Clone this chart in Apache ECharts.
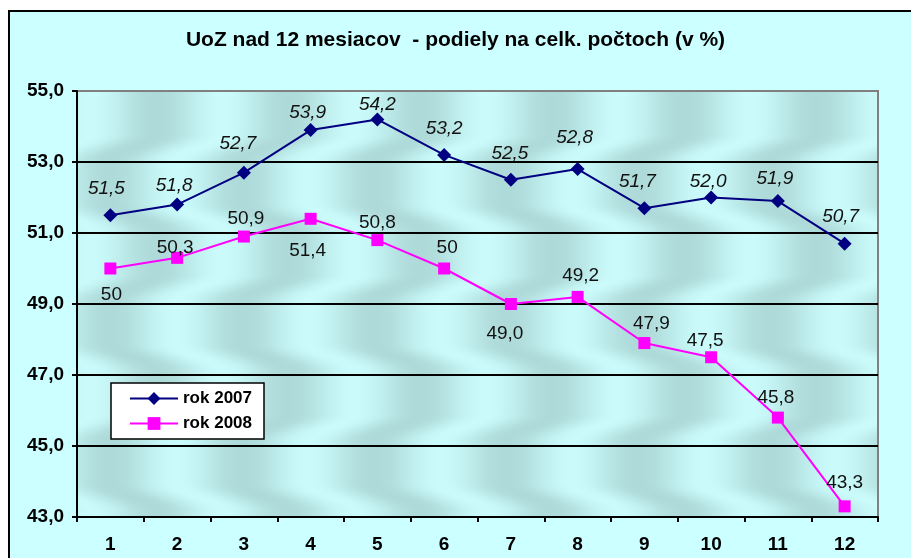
<!DOCTYPE html>
<html>
<head>
<meta charset="utf-8">
<script src="https://cdn.jsdelivr.net/npm/echarts@6/dist/echarts.min.js"></script>
<style>
  html, body { margin: 0; padding: 0; background: #fff; }
  #main { width: 911px; height: 558px; }
</style>
</head>
<body>
<div id="main"></div>
<script>
var months = ['1', '2', '3', '4', '5', '6', '7', '8', '9', '10', '11', '12'];
var rok2007 = [51.5, 51.8, 52.7, 53.9, 54.2, 53.2, 52.5, 52.8, 51.7, 52.0, 51.9, 50.7];
var rok2008 = [50, 50.3, 50.9, 51.4, 50.8, 50, 49.0, 49.2, 47.9, 47.5, 45.8, 43.3];
var labels2008 = ['50', '50,3', '50,9', '51,4', '50,8', '50', '49,0', '49,2', '47,9', '47,5', '45,8', '43,3'];

// label placement tweaks (the original labels were nudged by hand)
var pos2008 = ['bottom', 'top', 'top', 'bottom', 'top', 'top', 'bottom', 'top', 'top', 'top', 'top', 'top'];
var nudge2007 = [[-4, 0], [-3, 8], [-6, -2], [-3, 9], [0, 12], [0, 0], [-1, 0], [-3, -5], [-7, 0], [-3, 11], [-3, 4], [-4, 0]];
var nudge2008 = [[1, 3], [-2, 13], [2, 6], [-3, 8], [0, 6], [3, 3], [-6, 6], [3, 2], [7, 4], [-6, 7], [-2, 4], [0, 0]];

// soft teal texture for the plot area, drawn in page coordinates
function makeTexture() {
    var w = 911, h = 558;
    var c = document.createElement('canvas');
    c.width = w;
    c.height = h;
    var ctx = c.getContext('2d');
    var img = ctx.createImageData(w, h);
    var dark = [174, 218, 217], light = [202, 250, 250];
    for (var y = 0; y < h; y++) {
        // bands of ~70px, each shifted sideways, blended softly
        var t = (y - 91) / 70;
        var f = t - Math.floor(t);
        var s = Math.min(1, Math.max(0, (f - 0.6) / 0.4));
        s = s * s * (3 - 2 * s);
        var odd = Math.floor(t) % 2 === 0 ? 0 : 1;
        var phase = Math.PI * 0.7 * (odd ? 1 - s : s);
        for (var x = 0; x < w; x++) {
            var b = 0.5 + 0.5 * Math.cos(2 * Math.PI * (x - 90) / 132 + phase);
            var k = (y * w + x) * 4;
            img.data[k] = dark[0] + (light[0] - dark[0]) * b;
            img.data[k + 1] = dark[1] + (light[1] - dark[1]) * b;
            img.data[k + 2] = dark[2] + (light[2] - dark[2]) * b;
            img.data[k + 3] = 255;
        }
    }
    ctx.putImageData(img, 0, 0);
    return c;
}

var myChart = echarts.init(document.getElementById('main'));

var option = {
    backgroundColor: '#fff',
    textStyle: { fontFamily: 'Liberation Sans, Arial, sans-serif' },
    graphic: [
        {
            type: 'rect',
            z: -10,
            shape: { x: 9, y: 11, width: 920, height: 560 },
            style: { fill: '#ccffff', stroke: '#000', lineWidth: 2 }
        }
    ],
    title: {
        text: 'UoZ nad 12 mesiacov  - podiely na celk. počtoch (v %)',
        left: 'center',
        top: 25,
        textStyle: { fontSize: 21, fontWeight: 'bold', color: '#000' }
    },
    legend: {
        orient: 'vertical',
        left: 111,
        top: 383,
        backgroundColor: '#fff',
        borderColor: '#000',
        borderWidth: 1.5,
        padding: [7, 12, 7, 18],
        itemGap: 8,
        itemWidth: 48,
        itemHeight: 16,
        textStyle: { fontSize: 17, fontWeight: 'bold', color: '#000' },
        data: ['rok 2007', 'rok 2008']
    },
    grid: {
        left: 77,
        top: 91,
        right: 33,
        bottom: 41,
        show: true,
        backgroundColor: { image: makeTexture(), repeat: 'no-repeat' },
        borderColor: '#808080',
        borderWidth: 2
    },
    xAxis: {
        type: 'category',
        data: months,
        boundaryGap: true,
        axisLine: { lineStyle: { color: '#000', width: 2 } },
        axisTick: { show: true, length: 5, lineStyle: { color: '#000', width: 2 } },
        axisLabel: { fontSize: 19, fontWeight: 'bold', color: '#000', margin: 18 }
    },
    yAxis: {
        type: 'value',
        min: 43,
        max: 55,
        interval: 2,
        axisLine: { show: true, lineStyle: { color: '#000', width: 2 } },
        axisTick: { show: true, length: 5, lineStyle: { color: '#000', width: 2 } },
        axisLabel: {
            fontSize: 19,
            fontWeight: 'bold',
            color: '#000',
            margin: 13,
            formatter: function (v) { return v.toFixed(1).replace('.', ','); }
        },
        splitLine: {
            show: true,
            lineStyle: { color: ['#000', '#000', '#000', '#000', '#000', '#000', '#808080'], width: 2 }
        }
    },
    series: [
        {
            name: 'rok 2007',
            type: 'line',
            symbol: 'diamond',
            symbolSize: 14,
            color: '#000080',
            lineStyle: { color: '#000080', width: 2 },
            itemStyle: { color: '#000080' },
            label: {
                show: true,
                position: 'top',
                distance: 10,
                fontSize: 19,
                fontStyle: 'italic',
                color: '#111',
                formatter: function (p) { return p.value.toFixed(1).replace('.', ','); }
            },
            data: rok2007.map(function (v, i) {
                return { value: v, label: { offset: nudge2007[i] } };
            })
        },
        {
            name: 'rok 2008',
            type: 'line',
            symbol: 'rect',
            symbolSize: 12,
            color: '#ff00ff',
            lineStyle: { color: '#ff00ff', width: 2 },
            itemStyle: { color: '#ff00ff' },
            label: {
                show: true,
                fontSize: 19,
                color: '#111',
                distance: 8
            },
            data: rok2008.map(function (v, i) {
                return {
                    value: v,
                    label: {
                        position: pos2008[i],
                        offset: nudge2008[i],
                        formatter: labels2008[i]
                    }
                };
            })
        }
    ]
};

myChart.setOption(option);

window.addEventListener('resize', function () {
    myChart.resize();
});
</script>
</body>
</html>
